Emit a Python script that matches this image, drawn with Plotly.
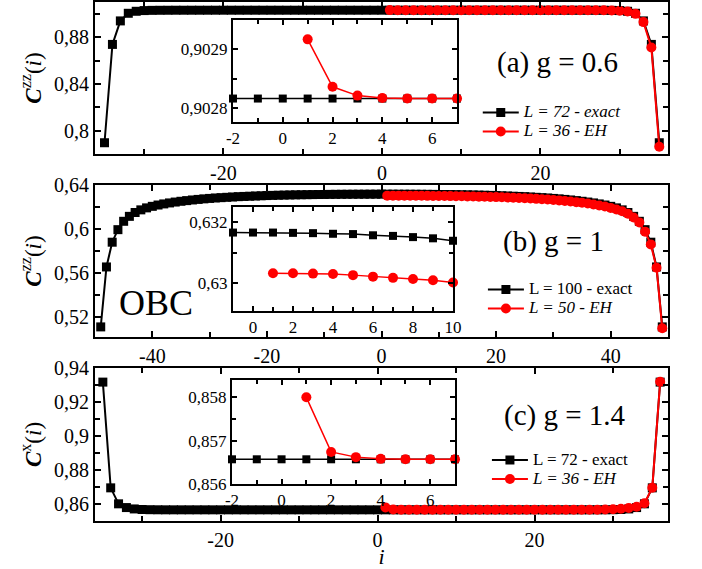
import plotly.graph_objects as go

FONT = "Liberation Serif"

# ---------------- data ----------------
# (a) g = 0.6  (bond correlations, L=72 exact: bonds -35..35 ; L=36 EH: 1..35)
a_black_i = list(range(-35, 36))
a_black = [0.7900, 0.8737, 0.8937, 0.9002, 0.9019, 0.90250, 0.90268, 0.90275, 0.90278, 0.90280,
           0.902806, 0.902810, 0.902812, 0.902814,
           0.902816, 0.902816, 0.902816, 0.902816, 0.902816, 0.902816, 0.902816, 0.902816, 0.902816, 0.902816,
           0.902816, 0.902816, 0.902816, 0.902816, 0.902816, 0.902816, 0.902816, 0.902816, 0.902816, 0.902816,
           0.902816, 0.902816, 0.902816, 0.902816, 0.902816, 0.902816, 0.902816, 0.902816, 0.902816, 0.902816,
           0.902816, 0.902816, 0.902816, 0.902816, 0.902816, 0.902816, 0.902816, 0.902816, 0.902816, 0.902816,
           0.902816, 0.902816, 0.902816,
           0.902814, 0.902812, 0.902810, 0.902806,
           0.90280, 0.90278, 0.90275, 0.90268, 0.90250, 0.9019, 0.9002, 0.8937, 0.8737, 0.7900]
a_red_i = list(range(1, 36))
a_red = [0.902917, 0.902836, 0.902821, 0.902817,
         0.902816, 0.902816, 0.902816, 0.902816, 0.902816, 0.902816, 0.902816, 0.902816, 0.902816, 0.902816,
         0.902816, 0.902816, 0.902816, 0.902816, 0.902816, 0.902816, 0.902816,
         0.902814, 0.902811, 0.902808, 0.902802, 0.902794, 0.90277, 0.90272, 0.90260, 0.90235, 0.9017,
         0.8997, 0.8927, 0.8711, 0.7866]

# (b) g = 1  (L=100 exact: bonds -49..49 ; L=50 EH: 1..49)
b_black_i = list(range(-49, 50))
b_black = [0.5110, 0.5655, 0.5880, 0.5994, 0.6070, 0.6115, 0.6150, 0.6174, 0.6192, 0.6206,
           0.6218, 0.6228, 0.6237, 0.6245, 0.6252, 0.6258, 0.6264, 0.6269, 0.6274, 0.6278,
           0.6282, 0.6285, 0.6288, 0.6291, 0.6294, 0.6296, 0.6298, 0.6300, 0.6302, 0.6304,
           0.63055, 0.63070, 0.63083, 0.63095, 0.63105, 0.63114, 0.63122, 0.63129, 0.63134, 0.63139,
           0.63147, 0.63151, 0.63155, 0.63157, 0.63161, 0.63162, 0.63164, 0.63165, 0.63166, 0.63166,
           0.63166, 0.63165, 0.63164, 0.63162, 0.63161, 0.63157, 0.63155, 0.63151, 0.63147,
           0.63139, 0.63134, 0.63129, 0.63122, 0.63114, 0.63105, 0.63095, 0.63083, 0.63070, 0.63055,
           0.6304, 0.6302, 0.6300, 0.6298, 0.6296, 0.6294, 0.6291, 0.6288, 0.6285, 0.6282,
           0.6278, 0.6274, 0.6269, 0.6264, 0.6258, 0.6252, 0.6245, 0.6237, 0.6228, 0.6218,
           0.6206, 0.6192, 0.6174, 0.6150, 0.6115, 0.6070, 0.5994, 0.5880, 0.5655, 0.5110]
b_red_i = list(range(1, 50))
b_red = [0.63032, 0.63032, 0.63031, 0.63030, 0.63026, 0.63021, 0.63017, 0.63013, 0.63009, 0.63002,
         0.62995, 0.62989, 0.62981, 0.62973, 0.62964, 0.62954, 0.62942, 0.62929, 0.62914, 0.6290,
         0.6288, 0.6286, 0.6284, 0.6282, 0.6280, 0.6277, 0.6274, 0.6271, 0.6268, 0.6264,
         0.6260, 0.6255, 0.6250, 0.6244, 0.6238, 0.6231, 0.6223, 0.6214, 0.6204, 0.6192,
         0.6178, 0.6161, 0.6138, 0.6104, 0.6060, 0.5976, 0.5860, 0.5648, 0.5097]

# (c) g = 1.4  (site correlations, L=72 exact: sites -35..36 ; L=36 EH: 1..36)
c_black_i = list(range(-35, 37))
c_black = [0.9317, 0.8695, 0.8601, 0.8579, 0.8571, 0.85678, 0.85665, 0.85660, 0.85658,
           0.85657, 0.85657, 0.85657, 0.85657, 0.85657, 0.85657, 0.85657, 0.85657, 0.85657, 0.85657,
           0.85657, 0.85657, 0.85657, 0.85657, 0.85657, 0.85657, 0.85657, 0.85657, 0.85657, 0.85657,
           0.85657, 0.85657, 0.85657, 0.85657, 0.85657, 0.85657, 0.85657, 0.85657, 0.85657, 0.85657,
           0.85657, 0.85657, 0.85657, 0.85657, 0.85657, 0.85657, 0.85657, 0.85657, 0.85657, 0.85657,
           0.85657, 0.85657, 0.85657, 0.85657, 0.85657, 0.85657, 0.85657, 0.85657, 0.85657, 0.85657,
           0.85657, 0.85657, 0.85657, 0.85657,
           0.85658, 0.85660, 0.85665, 0.85678, 0.8571, 0.8579, 0.8601, 0.8695, 0.9317]
c_red_i = list(range(1, 37))
c_red = [0.85800, 0.85674, 0.85662, 0.85658,
         0.85657, 0.85657, 0.85657, 0.85657, 0.85657, 0.85657, 0.85657, 0.85657, 0.85657, 0.85657,
         0.85657, 0.85657, 0.85657, 0.85657, 0.85657, 0.85657, 0.85657, 0.85657, 0.85657, 0.85657,
         0.85658, 0.85659, 0.85661, 0.85665, 0.85675, 0.8569, 0.8572, 0.8577, 0.8584, 0.8604,
         0.8696, 0.9319]

# tick labels
a_xt = [-20, 0, 20];               a_xl = ["-20", "0", "20"]
a_yt = [0.8, 0.84, 0.88];          a_yl = ["0,8", "0,84", "0,88"]
ai_xt = [-2, 0, 2, 4, 6];          ai_xl = ["-2", "0", "2", "4", "6"]
ai_yt = [0.9028, 0.9029];          ai_yl = ["0,9028", "0,9029"]
b_xt = [-40, -20, 0, 20, 40];      b_xl = ["-40", "-20", "0", "20", "40"]
b_yt = [0.52, 0.56, 0.6, 0.64];    b_yl = ["0,52", "0,56", "0,6", "0,64"]
bi_xt = [0, 2, 4, 6, 8, 10];       bi_xl = ["0", "2", "4", "6", "8", "10"]
bi_yt = [0.63, 0.632];             bi_yl = ["0,63", "0,632"]
c_xt = [-20, 0, 20];               c_xl = ["-20", "0", "20"]
c_yt = [0.86, 0.88, 0.9, 0.92, 0.94]; c_yl = ["0,86", "0,88", "0,9", "0,92", "0,94"]
ci_xt = [-2, 0, 2, 4, 6];          ci_xl = ["-2", "0", "2", "4", "6"]
ci_yt = [0.856, 0.857, 0.858];     ci_yl = ["0,856", "0,857", "0,858"]

# minor tick positions
a_xm = [-30, -10, 10, 30];         a_ym = [0.82, 0.86, 0.9]
ai_xm = [-1, 1, 3, 5, 7];          ai_ym = [0.90285]
b_xm = [-50, -30, -10, 10, 30, 50]; b_ym = [0.54, 0.58, 0.62]
bi_xm = [-1, 1, 3, 5, 7, 9];       bi_ym = [0.629, 0.631]
c_xm = [-30, -10, 10, 30];         c_ym = [0.85, 0.87, 0.89, 0.91, 0.93]
ci_xm = [-1, 1, 3, 5, 7];          ci_ym = [0.8565, 0.8575]

# ranges
a_xr = [-36.2, 36.1]; a_yr = [0.7804, 0.9098]
ai_xr = [-2, 7];      ai_yr = [0.902776, 0.90295]
b_xr = [-50, 50];     b_yr = [0.5018, 0.64]
bi_xr = [-1, 10];     bi_yr = [0.62908, 0.6325]
c_xr = [-36, 37];     c_yr = [0.85, 0.94]
ci_xr = [-2, 7];      ci_yr = [0.856, 0.8584]


def within(xs, ys, rng):
    pts = [(x, y) for x, y in zip(xs, ys) if rng[0] <= x <= rng[1]]
    return [p[0] for p in pts], [p[1] for p in pts]


def axis(domain, rng, tv, tl, mv, size, anchor, ticklen=6):
    return dict(domain=domain, range=rng, anchor=anchor, automargin=False,
                tickmode="array", tickvals=tv, ticktext=tl,
                ticks="inside", ticklen=ticklen, tickwidth=1.5, tickcolor="black",
                minor=dict(tickmode="array", tickvals=mv, ticks="inside", ticklen=ticklen - 1,
                           tickwidth=1.5, tickcolor="black"),
                showline=True, linewidth=2, linecolor="black", mirror="ticks",
                showgrid=False, zeroline=False,
                tickfont=dict(family=FONT, size=size, color="black"))


fig = go.Figure()


def big(t):
    return '<span style="font-size:17px">' + t + '</span>'


def add_main(xs_b, ys_b, xs_r, ys_r, xa, ya, leg, nb, nr):
    fig.add_trace(go.Scatter(x=xs_b, y=ys_b, mode="lines+markers", name=big(nb), xaxis=xa, yaxis=ya,
                             legend=leg, line=dict(color="black", width=2),
                             marker=dict(symbol="square", size=9, color="black"), cliponaxis=False))
    fig.add_trace(go.Scatter(x=xs_r, y=ys_r, mode="lines+markers", name=big(nr), xaxis=xa, yaxis=ya,
                             legend=leg, line=dict(color="#ff0000", width=2),
                             marker=dict(symbol="circle", size=10, color="#ff0000"), cliponaxis=False))


def add_inset(xs_b, ys_b, xs_r, ys_r, xa, ya, rng):
    bx, by = within(xs_b, ys_b, rng)
    rx, ry = within(xs_r, ys_r, rng)
    fig.add_trace(go.Scatter(x=bx, y=by, mode="lines+markers", xaxis=xa, yaxis=ya, showlegend=False,
                             line=dict(color="black", width=1.5),
                             marker=dict(symbol="square", size=8, color="black"), cliponaxis=False))
    fig.add_trace(go.Scatter(x=rx, y=ry, mode="lines+markers", xaxis=xa, yaxis=ya, showlegend=False,
                             line=dict(color="#ff0000", width=1.5),
                             marker=dict(symbol="circle", size=10, color="#ff0000"), cliponaxis=False))


add_main(a_black_i, a_black, a_red_i, a_red, "x", "y", "legend",
         "<i>L = 72 - exact</i>", "<i>L = 36 - EH</i>")
add_inset(a_black_i, a_black, a_red_i, a_red, "x2", "y2", ai_xr)
add_main(b_black_i, b_black, b_red_i, b_red, "x3", "y3", "legend2",
         "L = 100 - exact", "<i>L = 50 - EH</i>")
add_inset(b_black_i, b_black, b_red_i, b_red, "x4", "y4", bi_xr)
add_main(c_black_i, c_black, c_red_i, c_red, "x5", "y5", "legend3",
         "L = 72 - exact", "<i>L = 36 - EH</i>")
add_inset(c_black_i, c_black, c_red_i, c_red, "x6", "y6", ci_xr)

ytitle_font = dict(family=FONT, size=23, color="black")
leg_common = dict(xanchor="left", yanchor="top", bgcolor="rgba(0,0,0,0)", itemwidth=36,
                  font=dict(family=FONT, size=12, color="black"), tracegroupgap=0)


def label(text, x, y, size):
    return dict(text=text, x=x, y=y, xref="paper", yref="paper", showarrow=False,
                xanchor="center", yanchor="middle", font=dict(family=FONT, size=size, color="black"))


fig.update_layout(
    width=702, height=569,
    margin=dict(l=95, r=34, t=2, b=48, autoexpand=False),
    paper_bgcolor="white", plot_bgcolor="white",
    font=dict(family=FONT, color="black"),
    xaxis=axis([0, 1], a_xr, a_xt, a_xl, a_xm, 20, "y"),
    yaxis=dict(**axis([0.7071, 1], a_yr, a_yt, a_yl, a_ym, 20, "x"),
               title=dict(text="<b><i>C</i></b><sup>zz</sup>(<i>i</i>)", font=ytitle_font, standoff=6)),
    xaxis2=axis([0.2408, 0.6318], ai_xr, ai_xt, ai_xl, ai_xm, 17, "y2", 5),
    yaxis2=axis([0.7688, 0.9653], ai_yr, ai_yt, ai_yl, ai_ym, 17, "x2", 5),
    xaxis3=axis([0, 1], b_xr, b_xt, b_xl, b_xm, 20, "y3"),
    yaxis3=dict(**axis([0.3545, 0.6474], b_yr, b_yt, b_yl, b_ym, 20, "x3"),
                title=dict(text="<b><i>C</i></b><sup>zz</sup>(<i>i</i>)", font=ytitle_font, standoff=6)),
    xaxis4=axis([0.2408, 0.6248], bi_xr, bi_xt, bi_xl, bi_xm, 17, "y4", 5),
    yaxis4=axis([0.4046, 0.6050], bi_yr, bi_yt, bi_yl, bi_ym, 17, "x4", 5),
    xaxis5=dict(**axis([0, 1], c_xr, c_xt, c_xl, c_xm, 20, "y5"),
                title=dict(text="<i>i</i>", font=dict(family=FONT, size=22, color="black"), standoff=12)),
    yaxis5=dict(**axis([0, 0.2948], c_yr, c_yt, c_yl, c_ym, 20, "x5"),
                title=dict(text="<b><i>C</i></b><sup>x</sup>(<i>i</i>)", font=ytitle_font, standoff=6)),
    xaxis6=axis([0.2391, 0.6283], ci_xr, ci_xt, ci_xl, ci_xm, 17, "y6", 5),
    yaxis6=axis([0.0713, 0.2717], ci_yr, ci_yt, ci_yl, ci_ym, 17, "x6", 5),
    legend=dict(x=0.668, y=0.815, **leg_common),
    legend2=dict(x=0.677, y=0.474, **leg_common),
    legend3=dict(x=0.684, y=0.1455, **leg_common),
    annotations=[
        label("(a) g = 0.6", 0.808, 0.884, 29),
        label("(b) g = 1", 0.801, 0.5376, 29),
        label("(c) g = 1.4", 0.820, 0.2042, 29),
        label("OBC", 0.1065, 0.42, 36),
    ],
)

fig.write_html("out.html", config={"displayModeBar": False},
               post_script="document.body.style.margin='0';")
